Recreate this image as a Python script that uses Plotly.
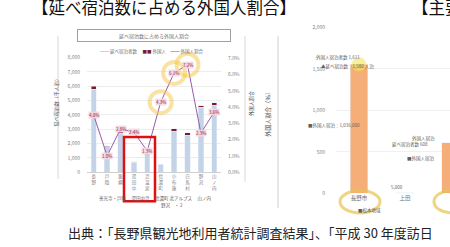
import plotly.graph_objects as go

# ---------------- data (left chart) ----------------
areas = ["長野", "戸隠", "飯綱", "湯田中", "渋温泉", "信濃町", "小布施", "白馬村", "野沢", "山ノ内"]
domestic_stays = [5780, 1780, 2725, 700, 1225, 540, 2855, 2560, 4510, 4670]   # 千人泊
foreign_stays = [210, 20, 75, 17, 16, 25, 185, 190, 110, 180]                 # 千人泊
foreign_share = [3.5, 1.0, 2.65, 2.45, 1.3, 4.3, 6.1, 6.6, 2.4, 3.7]          # %
share_labels = ["4.0%", "1.0%", "2.8%", "2.4%", "1.3%", "4.3%", "6.1%", "7.2%", "2.3%", "3.6%"]
highlight_idx = [5, 6, 7]
left_ticks = [0, 1000, 2000, 3000, 4000, 5000, 6000, 7000, 8000]
right_ticks = [0, 1, 2, 3, 4, 5, 6, 7]

# ---------------- data (right chart) ----------------
cities = ["長野市", "上田", "松本"]
city_values = [1556, 8, 608]
city_ticks = [0, 500, 1000, 1500, 2000]

FONT = "Noto Sans CJK JP"
W, H = 450, 247
def px(x): return x / W
def py(y): return 1 - y / H

fig = go.Figure()

# stacked bars
fig.add_trace(go.Bar(x=areas, y=domestic_stays, marker_color="#c3d3e8", width=0.4,
                     xaxis="x", yaxis="y", showlegend=False))
fig.add_trace(go.Bar(x=areas, y=foreign_stays, marker_color="#7b1c2c", width=0.4,
                     xaxis="x", yaxis="y", showlegend=False))
# share line
fig.add_trace(go.Scatter(x=areas, y=foreign_share, mode="lines", line=dict(color="#9a5aa8", width=1),
                         xaxis="x", yaxis="y2", showlegend=False))
# yellow highlight circles
fig.add_trace(go.Scatter(x=[areas[i] for i in highlight_idx], y=[foreign_share[i] for i in highlight_idx],
                         mode="markers", marker=dict(symbol="circle-open", size=22,
                         color="rgba(245,200,70,0.5)", line=dict(color="rgba(245,200,70,0.5)", width=4)),
                         xaxis="x", yaxis="y2", showlegend=False, cliponaxis=False))

# right chart bars
fig.add_trace(go.Bar(x=cities, y=city_values, marker_color="#f5ae78", width=0.39,
                     xaxis="x2", yaxis="y3", showlegend=False))
fig.add_trace(go.Scatter(x=[cities[0]], y=[city_values[0]], mode="markers",
                         marker=dict(size=14, color="rgba(240,230,90,0.6)"),
                         xaxis="x2", yaxis="y3", showlegend=False, cliponaxis=False))

tickfont = dict(family=FONT, size=5, color="#808080")
fig.update_layout(
    width=W, height=H, margin=dict(l=0, r=0, t=0, b=0),
    paper_bgcolor="white", plot_bgcolor="white",
    barmode="stack", font=dict(family=FONT),
    xaxis=dict(domain=[px(87), px(221)], anchor="y", tickmode="array", tickvals=areas,
               ticktext=["<br>".join(a) for a in areas], tickfont=dict(family=FONT, size=4.5, color="#808080"),
               showline=True, linecolor="#d0d0d0", linewidth=1, ticks=""),
    yaxis=dict(domain=[py(173), py(55)], range=[0, 8000], tickvals=left_ticks, tickformat=",",
               tickfont=tickfont, gridcolor="#ececec", zeroline=False, ticklabelstandoff=6),
    yaxis2=dict(overlaying="y", side="right", range=[0, 7.05], tickvals=right_ticks,
                ticktext=[f"{v:.1f}%" for v in right_ticks], tickfont=tickfont,
                showgrid=False, zeroline=False, ticklabelstandoff=6),
    xaxis2=dict(domain=[px(336), 1], anchor="y3", range=[-0.5, 1.98],
                tickfont=dict(family=FONT, size=5.5, color="#707070"), ticks=""),
    yaxis3=dict(domain=[py(195), py(24)], anchor="x2", range=[0, 2000], tickvals=city_ticks,
                tickformat=",", tickfont=tickfont, gridcolor="#f0f0f0", zeroline=False,
                ticklabelstandoff=10),
)

ann = []
# data labels on the share line
for a, v, t in zip(areas, foreign_share, share_labels):
    ann.append(dict(x=a, y=v, xref="x", yref="y2", text=t, showarrow=False,
                    font=dict(family=FONT, size=4.5, color="#8b1a3a"),
                    bgcolor="rgba(246,214,224,0.85)", borderpad=0))
# heading
ann.append(dict(x=px(30), y=py(3), xref="paper", yref="paper", xanchor="left", yanchor="middle",
                text="【延べ宿泊数に占める外国人割合】", showarrow=False,
                font=dict(family=FONT, size=16.5, color="#111")))
ann.append(dict(x=px(410), y=py(3), xref="paper", yref="paper", xanchor="left", yanchor="middle",
                text="【主要観光地】", showarrow=False,
                font=dict(family=FONT, size=16.5, color="#111")))
# chart title box
ann.append(dict(x=px(154), y=py(26), xref="paper", yref="paper", text="延べ宿泊数に占める外国人割合",
                showarrow=False, width=150, height=9, bordercolor="#a0a0a0", borderwidth=1,
                font=dict(family=FONT, size=5, color="#707070")))
# legend
ann.append(dict(x=px(152), y=py(43), xref="paper", yref="paper",
                text="<span style='color:#9ab0cf'>━━</span> 延べ宿泊者数 　<span style='color:#7b1c2c'>■■</span> 外国人　"
                     "<span style='color:#9a5aa8'>━━</span> 外国人割合",
                showarrow=False, font=dict(family=FONT, size=4.5, color="#707070")))
# axis titles
ann.append(dict(x=px(50), y=py(100), xref="paper", yref="paper", text="延べ宿泊数（千人泊）",
                textangle=-90, showarrow=False, font=dict(family=FONT, size=5, color="#505050")))
ann.append(dict(x=px(251), y=py(103), xref="paper", yref="paper", text="外国人割合",
                textangle=-90, showarrow=False, font=dict(family=FONT, size=5, color="#404040")))
ann.append(dict(x=px(268), y=py(112), xref="paper", yref="paper", text="外国人割合（％）",
                textangle=-90, showarrow=False, font=dict(family=FONT, size=6, color="#505050")))
# group labels
ann.append(dict(x=px(155), y=py(206), xref="paper", yref="paper",
                text="善光寺・戸隠　 湯田中渋 　信濃町 北アルプス 　山ノ内", showarrow=False,
                font=dict(family=FONT, size=4.5, color="#606060")))
ann.append(dict(x=px(172), y=py(213), xref="paper", yref="paper", text="野沢　・ 2",
                showarrow=False, font=dict(family=FONT, size=4.5, color="#606060")))
# right chart notes
for (x, y, t) in [(362, 49, "外国人宿泊者数 1,611"), (376, 59, "▲延べ宿泊数　1,580 人泊"),
                  (362, 125, "■外国人宿泊：1,036,000"), (437, 138, "外国人宿泊"),
                  (430, 145, "延べ宿泊者数 608"), (437, 165, "■外国人宿泊"),
                  (405, 193, "5,000"), (383, 218, "■松本地域")]:
    ann.append(dict(x=px(x), y=py(y), xref="paper", yref="paper", text=t, showarrow=False,
                    font=dict(family=FONT, size=4.5, color="#606060")))
# caption
ann.append(dict(x=px(66), y=py(235), xref="paper", yref="paper", xanchor="left", yanchor="middle",
                text="出典：「長野県観光地利用者統計調査結果」、「平成 30 年度訪日",
                showarrow=False, font=dict(family=FONT, size=13, color="#222")))
fig.update_layout(annotations=ann)

shapes = [
    # red highlight box
    dict(type="rect", xref="paper", yref="paper", x0=px(124), x1=px(155), y0=py(203), y1=py(137),
         line=dict(color="#e01010", width=2.5)),
    # faint frame lines
    dict(type="line", xref="paper", yref="paper", x0=px(58), x1=px(58), y0=py(33), y1=py(180),
         line=dict(color="#d8d8d8", width=1)),
    dict(type="line", xref="paper", yref="paper", x0=px(245), x1=px(245), y0=py(33), y1=py(183),
         line=dict(color="#d8d8d8", width=1)),
    dict(type="line", xref="paper", yref="paper", x0=px(278), x1=px(278), y0=py(33), y1=py(210),
         line=dict(color="#d0d0d0", width=1)),
    # yellow circles on right chart labels
    dict(type="circle", xref="paper", yref="paper", x0=px(340), x1=px(380), y0=py(215), y1=py(192),
         line=dict(color="rgba(230,195,80,0.7)", width=3)),
    dict(type="circle", xref="paper", yref="paper", x0=px(434), x1=px(470), y0=py(215), y1=py(192),
         line=dict(color="rgba(230,195,80,0.7)", width=3)),
]
fig.update_layout(shapes=shapes)

fig.write_html("out.html", config={"displayModeBar": False},
               post_script="document.body.style.margin='0';document.body.style.overflow='hidden';")
